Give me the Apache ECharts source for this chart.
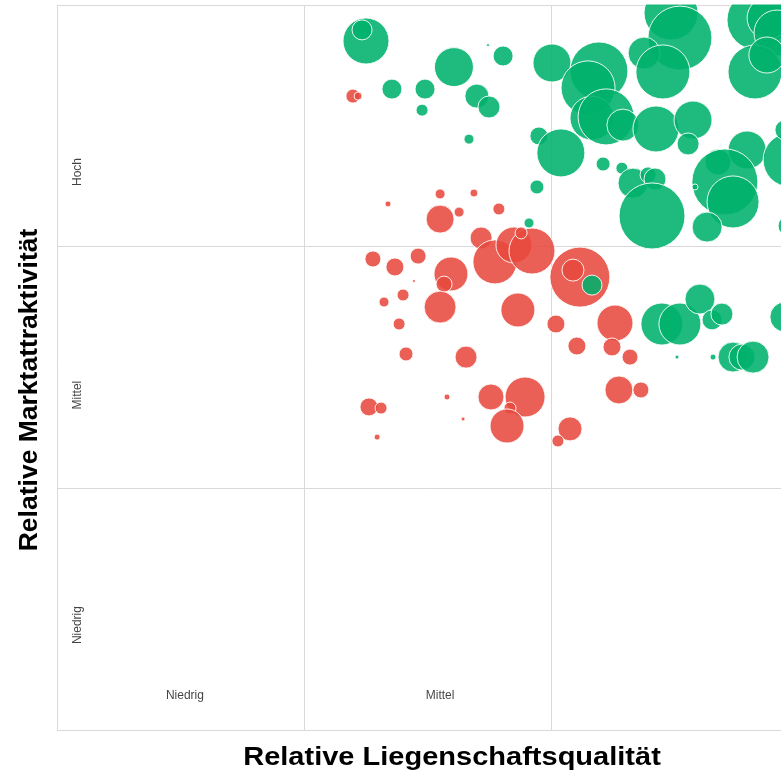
<!DOCTYPE html>
<html><head><meta charset="utf-8">
<script src="https://cdn.jsdelivr.net/npm/echarts@6/dist/echarts.min.js"></script>
<style>html,body{margin:0;padding:0;background:#fff;overflow:hidden;width:781px;height:772px}#c{width:830px;height:772px}</style>
</head><body><div id="c"></div>
<script>
// [Liegenschaftsqualität, Marktattraktivität, Größe]
const greenBubbles = [
 [1.251,2.851,529],[1.235,2.897,100],[1.745,2.834,2.25],[1.806,2.789,100],[1.607,2.743,380],
 [2.004,2.760,361],[1.356,2.652,100],[1.490,2.652,100],[1.478,2.565,36],[1.700,2.623,144],
 [1.749,2.578,121],[1.668,2.445,25],[1.951,2.458,81],[2.040,2.388,576],[1.943,2.247,49],
 [1.911,2.098,25],[2.194,2.727,841],[2.150,2.657,729],[2.166,2.532,484],[2.223,2.537,784],
 [2.291,2.503,256],[2.425,2.487,529],[2.575,2.524,361],[2.555,2.425,121],[2.211,2.342,49],
 [2.287,2.325,36],[2.332,2.263,225],[2.393,2.297,64],[2.421,2.280,121],[2.409,2.127,1089],
 [2.486,2.967,729],[2.522,2.863,1024],[2.377,2.801,256],[2.453,2.723,729],[2.834,2.938,900],
 [2.879,2.946,441],[2.915,2.884,529],[2.826,2.723,729],[2.874,2.793,324],[2.676,2.350,169],
 [2.794,2.400,361],[2.704,2.268,1089],[2.737,2.185,676],[2.632,2.081,225],[2.583,2.247,9],
 [2.968,2.359,729],[2.947,2.483,100],[2.960,2.086,100],[2.166,1.841,100],[2.449,1.680,441],
 [2.522,1.680,441],[2.603,1.783,225],[2.652,1.697,100],[2.692,1.721,121],[2.510,1.543,4],
 [2.656,1.543,9],[2.737,1.543,225],[2.773,1.543,169],[2.818,1.543,256],[2.947,1.709,225]
];
const redBubbles = [
 [1.198,2.623,49],[1.219,2.623,16],[1.551,2.218,25],[1.688,2.222,16],[1.340,2.177,9],
 [1.789,2.156,36],[1.551,2.114,196],[1.628,2.143,25],[1.717,2.036,121],[1.773,1.937,484],
 [1.850,2.007,324],[1.923,1.982,529],[1.879,2.057,36],[2.117,1.874,900],[2.089,1.903,121],
 [1.279,1.949,64],[1.368,1.916,81],[1.462,1.961,64],[1.595,1.887,289],[1.567,1.845,64],
 [1.445,1.858,2.25],[1.401,1.800,36],[1.324,1.771,25],[1.551,1.750,256],[1.385,1.680,36],
 [1.866,1.738,289],[2.020,1.680,81],[2.259,1.684,324],[2.105,1.589,81],[2.247,1.585,81],
 [2.320,1.543,64],[1.413,1.556,49],[1.656,1.543,121],[1.757,1.378,169],[1.895,1.378,400],
 [1.834,1.332,36],[1.822,1.258,289],[1.579,1.378,9],[1.644,1.287,4],[1.263,1.337,81],
 [1.312,1.332,36],[1.296,1.212,9],[2.077,1.246,144],[2.028,1.196,36],[2.275,1.407,196],
 [2.364,1.407,64]
];
const xLevelLabels = [[0.518,0.141,'Niedrig'],[1.551,0.141,'Mittel']];
const yLevelLabels = [[0.085,2.309,'Hoch'],[0.085,1.386,'Mittel'],[0.085,0.434,'Niedrig']];
const xTitle = 'Relative Liegenschaftsqualität';
const yTitle = 'Relative Marktattraktivität';

const chart = echarts.init(document.getElementById('c'));
const sizeFn = v => 2*Math.sqrt(v[2]);
const bubbleStyle = c => ({color:c, opacity:0.88, borderColor:'#fff', borderWidth:1});
const lbl = {fontFamily:'Liberation Sans, Arial, sans-serif', fontSize:12, color:'#111'};
chart.setOption({
  animation:false,
  grid:{left:57, top:5, right:32, bottom:42},
  xAxis:{type:'value', min:0, max:3, interval:1,
    axisLabel:{show:false}, axisTick:{show:false}, axisLine:{show:false},
    splitLine:{show:true, lineStyle:{color:'#d9d9d9', width:1}}},
  yAxis:{type:'value', min:0, max:3, interval:1,
    axisLabel:{show:false}, axisTick:{show:false}, axisLine:{show:false},
    splitLine:{show:true, lineStyle:{color:'#d9d9d9', width:1}}},
  series:[
    {type:'scatter', data:redBubbles, symbolSize:sizeFn, itemStyle:bubbleStyle('#e84a3f'), clip:false, z:2},
    {type:'scatter', data:greenBubbles, symbolSize:sizeFn, itemStyle:bubbleStyle('#00b26c'), clip:false, z:3},
    {type:'scatter', data:xLevelLabels, symbolSize:0, silent:true, z:5,
      label:Object.assign({show:true, position:'inside', formatter:p=>p.data[2]}, lbl)},
    {type:'scatter', data:yLevelLabels, symbolSize:0, silent:true, z:5,
      label:Object.assign({show:true, position:'inside', rotate:90, formatter:p=>p.data[2]}, lbl)}
  ],
  graphic:[
    {type:'rect', left:0, top:0, z:100, shape:{width:830, height:4.5}, style:{fill:'#fff'}},
    {type:'text', x:452, y:758, scaleX:1.095, z:100, style:{text:xTitle, font:'bold 26.5px "Liberation Sans", Arial, sans-serif', fill:'#000', textAlign:'center', textVerticalAlign:'middle'}},
    {type:'text', x:30, y:390, rotation:Math.PI/2, z:100, style:{text:yTitle, font:'bold 26.5px "Liberation Sans", Arial, sans-serif', fill:'#000', textAlign:'center', textVerticalAlign:'middle'}}
  ]
});
</script></body></html>
